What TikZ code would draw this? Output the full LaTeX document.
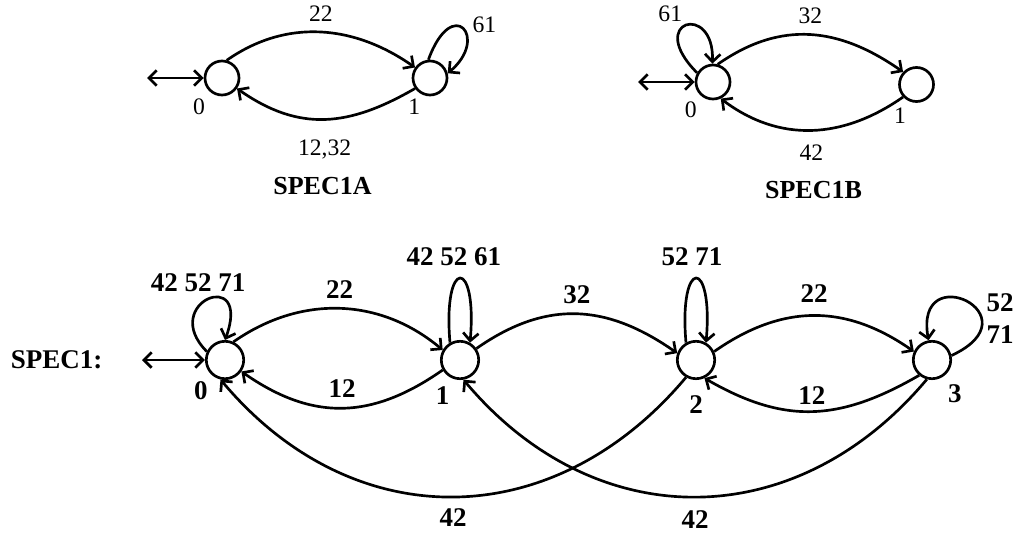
\documentclass[tikz,border=0pt]{standalone}
\usepackage{fontspec}
\setmainfont{Liberation Serif}
\usetikzlibrary{arrows.meta}

\begin{document}
\begin{tikzpicture}[x=.25mm,y=.25mm,line width=1.9pt,
  >={Straight Barb[length=5.5pt,width=11pt]},
  st/.style={draw,circle,inner sep=0pt,minimum size=24.2pt},
  bigst/.style={st,minimum size=26.6pt},
  lbl/.style={font=\fontsize{16.8}{19}\selectfont,inner sep=0pt},
  blbl/.style={font=\fontsize{19.2}{22.8}\selectfont\bfseries,inner sep=0pt},
  ttl/.style={font=\fontsize{18.5}{21}\selectfont\bfseries,inner sep=0pt}]
  \useasboundingbox (0,0) rectangle (1019,-532);
  % SPEC1A
  \begin{scope}
    \node[st,label={[lbl,label distance=4.7pt]-129:0}] (a0) at (222,-78) {};
    \node[st,label={[lbl,label distance=2.3pt]-113:1}] (a1) at (430,-78) {};
    \coordinate (ain) at (147,-78);
    \draw[<->] (ain) -- (a0);
    \draw[->] (a0.75) to[out=35,in=145] node[lbl,above=6.4pt] {22} (a1.145);
    \draw[->] (a1.-145) to[out=-150,in=-35,looseness=1.1] node[lbl,below=13.5pt] {12,32} (a0.-35);
    \draw[->] (a1.95) .. controls +(70:70) and +(40:55) .. (a1.15)
      node[midway,lbl,right=6pt,yshift=3pt] {61};
    \node[ttl] (tA) at (322.5,-186.5) {SPEC1A};
  \end{scope}
  % SPEC1B
  \begin{scope}
    \node[st,label={[lbl,label distance=4pt]-129:0}] (b0) at (713,-82) {};
    \node[st,label={[lbl,label distance=3.8pt]-113:1}] (b1) at (916.5,-84.5) {};
    \coordinate (bin) at (638,-82);
    \draw[<->] (bin) -- (b0);
    \draw[->] (b0.75) to[out=35,in=145,looseness=1.07] node[lbl,above=6.7pt] {32} (b1.137);
    \draw[->] (b1.-137) to[out=-145,in=-37,looseness=1.03] node[lbl,below=9.2pt] {42} (b0.-65);
    \draw[->] (b0.150) .. controls +(135:74) and +(88:62) .. (b0.92)
      node[midway,lbl,above left=1.8pt] {61};
    \node[ttl] (tB) at (813.5,-190) {SPEC1B};
  \end{scope}
  % SPEC1
  \begin{scope}
    \foreach \n/\x/\a/\d in {0/225/-129/3.8pt,1/460/-110/5.3pt,2/696/-90/10pt,3/932/-57/5.2pt}
      \node[bigst,label={[blbl,label distance=\d]\a:\n}] (q\n) at (\x,-360) {};
    \coordinate (qin) at (142,-360);
    \draw[<->] (qin) -- (q0);
    \node[blbl] (tC) at (56.7,-360) {SPEC1:};
    % forward
    \draw[->] (q0.65) to[out=35,in=140] node[blbl,above=6.3pt] {22} (q1.150);
    \draw[->] (q1.35) to[out=35,in=145,looseness=1.09] node[blbl,above=6.3pt] {32} (q2.160);
    \draw[->] (q2.25) to[out=35,in=145,looseness=1.07] node[blbl,above=8.4pt] {22} (q3.155);
    % back
    \draw[->] (q1.-150) to[out=-145,in=-35,looseness=1.1] node[blbl,above=6.3pt] {12} (q0.-35);
    \draw[->] (q3.-130) to[out=-150,in=-30,looseness=1.1] node[blbl,above=4.1pt] {12} (q2.-65);
    \draw[->] (q2.-120) to[out=-130,in=-50,looseness=1.13] node[blbl,below=7.7pt] {42} (q0.-103);
    \draw[->] (q3.-105) to[out=-130,in=-50,looseness=1.13] node[blbl,below=8.6pt] {42} (q1.-80);
    % loops
    \draw[->] (q0.155) .. controls +(135:69) and +(70:80) .. (q0.90)
      node[midway,blbl,above=4.3pt,xshift=-7pt] {42 52 71};
    \draw[->] (q1.120) .. controls +(95:86) and +(85:86) .. (q1.60)
      node[midway,blbl,above=8pt,xshift=-4.3pt] {42 52 61};
    \draw[->] (q2.120) .. controls +(95:86) and +(85:86) .. (q2.60)
      node[midway,blbl,above=8pt,xshift=-2.8pt] {52 71};
    \draw[->] (q3.13) .. controls +(25:95) and +(100:85) .. (q3.100)
      node[pos=.3,blbl,right=2.5pt,align=left] {52\\71};
  \end{scope}
\end{tikzpicture}
\end{document}
